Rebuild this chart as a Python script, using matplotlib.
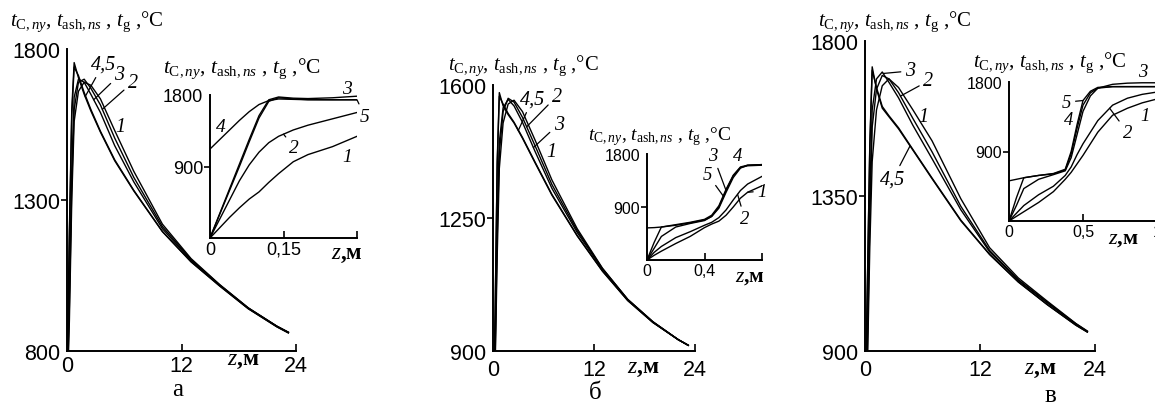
import matplotlib
matplotlib.use("Agg")
import matplotlib.pyplot as plt
import numpy as np

plt.rcParams['mathtext.fontset'] = 'custom'
plt.rcParams['mathtext.rm'] = 'Liberation Serif'
plt.rcParams['mathtext.it'] = 'Liberation Serif:italic'
plt.rcParams['mathtext.bf'] = 'Liberation Serif:bold'

# ---------------- data: main plots (z, m -> T, °C) ----------------
z_main = [0, 0.25, 0.5, 0.75, 1.2, 1.8, 2.5, 3.5, 5, 7, 10, 13, 16, 19, 22, 23.2]

a_main_1 = [620, 900, 1300, 1560, 1660, 1690, 1680, 1635, 1530, 1395, 1220, 1106, 1020, 943, 882, 862]
a_main_2 = [640, 950, 1350, 1600, 1690, 1700, 1670, 1615, 1505, 1375, 1212, 1103, 1019, 942, 882, 862]
a_main_3 = [650, 1000, 1400, 1640, 1700, 1690, 1650, 1590, 1480, 1360, 1205, 1100, 1018, 942, 882, 862]
a_main_4 = [700, 1200, 1600, 1755, 1705, 1650, 1595, 1525, 1430, 1330, 1195, 1095, 1015, 940, 880, 860]
a_main_5 = [700, 1180, 1580, 1740, 1712, 1656, 1600, 1528, 1433, 1332, 1196, 1096, 1016, 940, 880, 860]

b_main_1 = [620, 850, 1150, 1380, 1500, 1550, 1560, 1530, 1455, 1350, 1222, 1118, 1036, 977, 930, 915]
b_main_2 = [640, 880, 1200, 1420, 1530, 1565, 1555, 1515, 1440, 1338, 1217, 1117, 1036, 977, 930, 915]
b_main_3 = [650, 900, 1250, 1450, 1540, 1562, 1545, 1502, 1425, 1328, 1212, 1115, 1035, 976, 930, 915]
b_main_4 = [700, 1000, 1400, 1580, 1545, 1522, 1500, 1460, 1395, 1310, 1203, 1110, 1033, 975, 930, 915]
b_main_5 = [700, 990, 1390, 1570, 1550, 1525, 1502, 1462, 1397, 1312, 1204, 1111, 1033, 975, 930, 915]

c_main_1 = [600, 850, 1200, 1450, 1600, 1670, 1690, 1665, 1600, 1510, 1342, 1200, 1112, 1045, 980, 958]
c_main_2 = [620, 900, 1280, 1550, 1660, 1700, 1690, 1650, 1575, 1478, 1320, 1192, 1107, 1042, 979, 957]
c_main_3 = [650, 950, 1350, 1600, 1690, 1710, 1680, 1635, 1555, 1458, 1310, 1188, 1105, 1040, 978, 956]
c_main_4 = [700, 1100, 1500, 1725, 1660, 1605, 1580, 1545, 1483, 1400, 1278, 1180, 1100, 1035, 975, 955]
c_main_5 = [700, 1090, 1490, 1715, 1665, 1610, 1583, 1548, 1485, 1402, 1280, 1181, 1101, 1035, 975, 955]

# ---------------- data: insets ----------------
z_ins_a = [0, 0.02, 0.04, 0.06, 0.08, 0.1, 0.12, 0.14, 0.17, 0.2, 0.25, 0.3]
a_ins_1 = [0, 130, 260, 380, 490, 580, 700, 810, 960, 1050, 1150, 1280]
a_ins_2 = [0, 240, 480, 720, 920, 1080, 1200, 1280, 1360, 1420, 1500, 1580]
a_ins_3 = [0, 310, 620, 930, 1240, 1540, 1740, 1775, 1760, 1755, 1765, 1785]
a_ins_4 = [1120, 1240, 1360, 1480, 1590, 1680, 1730, 1750, 1745, 1740, 1740, 1740]
a_ins_5 = [0, 300, 600, 900, 1210, 1510, 1720, 1765, 1750, 1742, 1740, 1740]

z_ins_b = [0, 0.05, 0.1, 0.2, 0.3, 0.4, 0.45, 0.5, 0.55, 0.6, 0.65, 0.7, 0.8]
b_ins_1 = [0, 80, 150, 280, 400, 550, 610, 660, 760, 900, 1050, 1150, 1260]
b_ins_2 = [0, 130, 230, 380, 480, 590, 640, 720, 850, 1020, 1180, 1290, 1420]
b_ins_3 = [0, 200, 400, 560, 620, 670, 740, 900, 1180, 1430, 1570, 1600, 1610]
b_ins_4 = [545, 550, 560, 590, 630, 680, 740, 880, 1150, 1400, 1560, 1610, 1620]
b_ins_5 = [0, 300, 560, 600, 640, 690, 760, 920, 1200, 1440, 1580, 1610, 1620]

z_ins_c = [0, 0.05, 0.1, 0.2, 0.3, 0.38, 0.42, 0.46, 0.5, 0.55, 0.6, 0.7, 0.8, 0.9, 1.0]
c_ins_1 = [0, 60, 120, 240, 380, 540, 630, 740, 850, 1000, 1150, 1370, 1460, 1530, 1580]
c_ins_2 = [0, 100, 200, 340, 450, 590, 700, 860, 1000, 1150, 1300, 1500, 1590, 1640, 1670]
c_ins_3 = [0, 200, 420, 540, 600, 650, 820, 1120, 1420, 1620, 1720, 1770, 1785, 1790, 1790]
c_ins_4 = [520, 540, 560, 590, 610, 660, 870, 1200, 1500, 1660, 1720, 1740, 1740, 1740, 1740]
c_ins_5 = [0, 300, 560, 590, 615, 670, 900, 1250, 1560, 1680, 1730, 1740, 1740, 1740, 1740]

main_yticks_a = [800, 1300, 1800]
main_yticks_b = [900, 1250, 1600]
main_yticks_c = [900, 1350, 1800]
main_xticks = [0, 12, 24]
ins_yticks = [0, 900, 1800]
ins_xticks_a = [0, 0.15, 0.3]
ins_xlabels_a = ["0", "0,15", ""]
ins_xticks_b = [0, 0.4, 0.8]
ins_xlabels_b = ["0", "0,4", ""]
ins_xticks_c = [0, 0.5, 1.0]
ins_xlabels_c = ["0", "0,5", "1"]

TITLE = r"$t_{\mathrm{C},пу}$, $t_{\mathrm{ash},пs}$ , $t_{\mathrm{g}}$ ,°C"
ZLAB = r"$z$,м"
SERIF = 'Liberation Serif'
SANS = 'Liberation Sans'

W, H = 1155, 406
fig = plt.figure(figsize=(W / 100, H / 100), dpi=100)


def px_axes(l, t, r, b):
    ax = fig.add_axes([l / W, 1 - b / H, (r - l) / W, (b - t) / H])
    ax.patch.set_alpha(0)
    return ax


def style(ax, xlim, ylim, xticks, xlabels, yticks, ylabels, fs, pad):
    ax.set_xlim(xlim)
    ax.set_ylim(ylim)
    for s in ['top', 'right']:
        ax.spines[s].set_visible(False)
    for s in ['left', 'bottom']:
        ax.spines[s].set_linewidth(1.4)
    ax.set_xticks(xticks)
    ax.set_xticklabels(xlabels, fontsize=fs, family=SANS)
    ax.set_yticks(yticks)
    ax.set_yticklabels(ylabels, fontsize=fs, family=SANS)
    ax.tick_params(axis='x', direction='in', length=5, width=1.2, pad=pad)
    ax.tick_params(axis='y', direction='out', length=4, width=1.2, pad=1)
    ax.xaxis.get_major_ticks()[0].tick1line.set_visible(False)
    ax.yaxis.get_major_ticks()[0].tick1line.set_visible(False)
    ax.yaxis.get_major_ticks()[-1].tick1line.set_visible(False)
    ax.set_yticks([ylim[1]], minor=True)
    ax.tick_params(axis='y', which='minor', direction='in', length=5, width=1.2)


def curves(ax, z, ys):
    for y in ys:
        ax.plot(z, y, color='black', lw=1.0, solid_joinstyle='round')


def lab(ax, text, xy_text, z=None, zarr=None, yarr=None, fs=14.5):
    if z is None:
        ax.text(xy_text[0], xy_text[1], text, fontsize=fs, family=SERIF, style='italic',
                ha='center', va='center', clip_on=False)
    else:
        ax.annotate(text, xy=(z, float(np.interp(z, zarr, yarr))), xytext=xy_text,
                    fontsize=fs, family=SERIF, style='italic', ha='center', va='center',
                    annotation_clip=False,
                    arrowprops=dict(arrowstyle='-', lw=0.9, color='black', shrinkA=1, shrinkB=0))


# ================= panel a =================
ax = px_axes(67, 50, 296, 352)
curves(ax, z_main, [a_main_1, a_main_2, a_main_3, a_main_4, a_main_5])
style(ax, (0, 24), (800, 1800), main_xticks, ["0", "12", "24"], main_yticks_a,
      [str(v) for v in main_yticks_a], 15.5, 3)
lab(ax, "4,5", (3.8, 1750), 1.9, z_main, a_main_4)
lab(ax, "3", (5.5, 1714), 2.8, z_main, a_main_3)
lab(ax, "2", (6.9, 1690), 3.7, z_main, a_main_2)
lab(ax, "1", (5.6, 1545))

ia = px_axes(210, 96, 357, 239)
curves(ia, z_ins_a, [a_ins_1, a_ins_2, a_ins_3, a_ins_4, a_ins_5])
style(ia, (0, 0.3), (0, 1800), ins_xticks_a, ins_xlabels_a, ins_yticks, ["", "900", "1800"], 13, 2)
lab(ia, "3", (0.28, 1880), fs=14)
lab(ia, "4", (0.022, 1400), fs=14)
lab(ia, "5", (0.316, 1530), 0.3, z_ins_a, a_ins_5, fs=14)
lab(ia, "2", (0.172, 1140), 0.15, z_ins_a, a_ins_2, fs=14)
lab(ia, "1", (0.28, 1030), fs=14)

fig.text(10 / W, 1 - 26 / H, TITLE, fontsize=15, family=SERIF, ha='left', va='baseline')
fig.text(163 / W, 1 - 73 / H, TITLE, fontsize=15.5, family=SERIF, ha='left', va='baseline')
fig.text(243 / W, 1 - 361 / H, ZLAB, fontsize=17, family=SERIF, weight='bold', ha='center', va='center')
fig.text(347 / W, 1 - 255 / H, ZLAB, fontsize=16.5, family=SERIF, weight='bold', ha='center', va='center')
fig.text(178 / W, 1 - 390 / H, "а", fontsize=18, family=SERIF, ha='center', va='center')

# ================= panel б =================
ax = px_axes(493, 86, 695, 352)
curves(ax, z_main, [b_main_1, b_main_2, b_main_3, b_main_4, b_main_5])
style(ax, (0, 24), (900, 1600), main_xticks, ["0", "12", "24"], main_yticks_b,
      [str(v) for v in main_yticks_b], 15.5, 6)
lab(ax, "4,5", (4.7, 1563), 3.0, z_main, b_main_4)
lab(ax, "2", (7.6, 1571), 4.0, z_main, b_main_2)
lab(ax, "3", (7.8, 1497), 4.8, z_main, b_main_3)
lab(ax, "1", (6.9, 1426))

ib = px_axes(647, 155, 762, 261)
curves(ib, z_ins_b, [b_ins_1, b_ins_2, b_ins_3, b_ins_4, b_ins_5])
style(ib, (0, 0.8), (0, 1800), ins_xticks_b, ins_xlabels_b, ins_yticks, ["", "900", "1800"], 11.5, 2)
lab(ib, "3", (0.46, 1770), 0.55, z_ins_b, b_ins_3, fs=13.5)
lab(ib, "4", (0.63, 1770), fs=13.5)
lab(ib, "5", (0.42, 1460), 0.53, z_ins_b, b_ins_5, fs=13.5)
lab(ib, "1", (0.80, 1170), 0.7, z_ins_b, b_ins_1, fs=13.5)
lab(ib, "2", (0.68, 700), 0.63, z_ins_b, b_ins_2, fs=13.5)

fig.text(448 / W, 1 - 70 / H, TITLE, fontsize=14.8, family=SERIF, ha='left', va='baseline')
fig.text(588 / W, 1 - 140 / H, TITLE, fontsize=14, family=SERIF, ha='left', va='baseline')
fig.text(643 / W, 1 - 369 / H, ZLAB, fontsize=17, family=SERIF, weight='bold', ha='center', va='center')
fig.text(750 / W, 1 - 277 / H, ZLAB, fontsize=15.5, family=SERIF, weight='bold', ha='center', va='center')
fig.text(595 / W, 1 - 393 / H, "б", fontsize=18, family=SERIF, ha='center', va='center')

# ================= panel в =================
ax = px_axes(865, 42, 1095, 352)
curves(ax, z_main, [c_main_1, c_main_2, c_main_3, c_main_4, c_main_5])
style(ax, (0, 24), (900, 1800), main_xticks, ["0", "12", "24"], main_yticks_c,
      [str(v) for v in main_yticks_c], 15.5, 6)
lab(ax, "3", (4.7, 1713), 1.9, z_main, c_main_3)
lab(ax, "2", (6.6, 1684), 3.7, z_main, c_main_2)
lab(ax, "1", (6.1, 1582))
lab(ax, "4,5", (2.9, 1399), 4.7, z_main, c_main_4)

ic = px_axes(1009, 83, 1157, 222)
curves(ic, z_ins_c, [c_ins_1, c_ins_2, c_ins_3, c_ins_4, c_ins_5])
style(ic, (0, 1.0), (0, 1800), ins_xticks_c, ins_xlabels_c, ins_yticks, ["", "900", "1800"], 11.5, 2)
lab(ic, "3", (0.905, 1930), fs=13.5)
lab(ic, "5", (0.39, 1540), 0.5, z_ins_c, c_ins_5, fs=13.5)
lab(ic, "4", (0.40, 1320), fs=13.5)
lab(ic, "1", (0.92, 1360), fs=13.5)
lab(ic, "2", (0.80, 1150), 0.68, z_ins_c, c_ins_2, fs=13.5)

fig.text(818 / W, 1 - 26 / H, TITLE, fontsize=15, family=SERIF, ha='left', va='baseline')
fig.text(973 / W, 1 - 67 / H, TITLE, fontsize=15, family=SERIF, ha='left', va='baseline')
fig.text(1040 / W, 1 - 370 / H, ZLAB, fontsize=17, family=SERIF, weight='bold', ha='center', va='center')
fig.text(1123 / W, 1 - 239 / H, ZLAB, fontsize=16, family=SERIF, weight='bold', ha='center', va='center')
fig.text(1050 / W, 1 - 396 / H, "в", fontsize=18, family=SERIF, ha='center', va='center')

fig.savefig("out.png", dpi=100, facecolor='white')
